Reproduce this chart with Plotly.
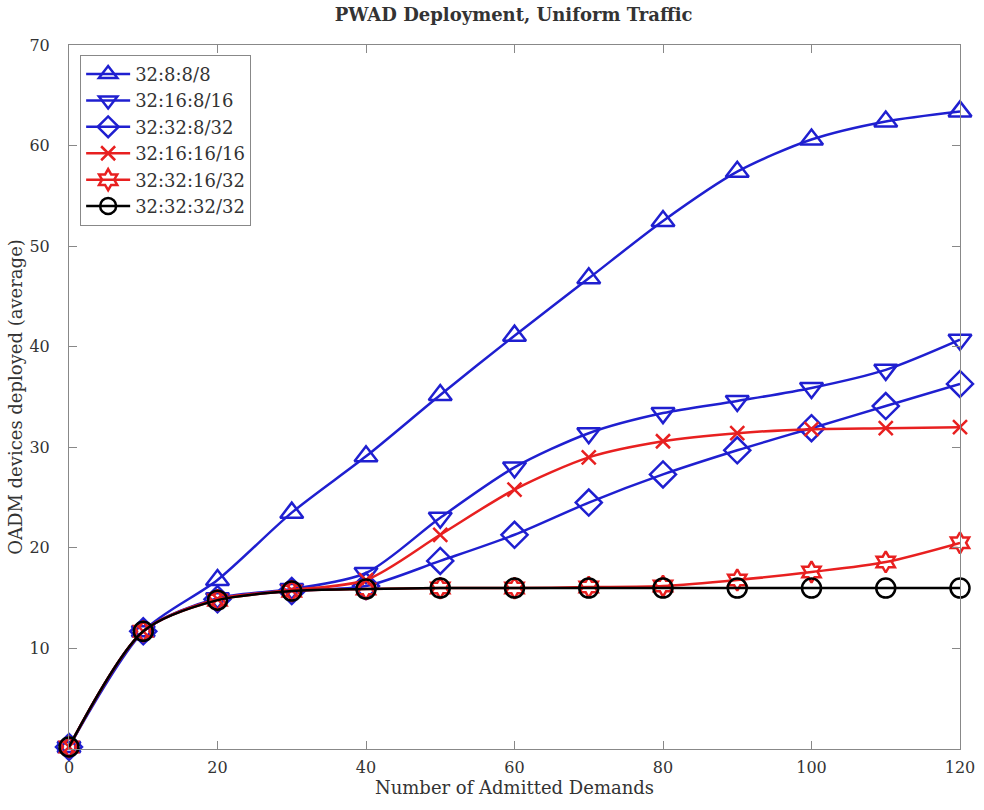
import plotly.graph_objects as go

x_vals = [0, 10, 20, 30, 40, 50, 60, 70, 80, 90, 100, 110, 120]

s_8_8 = [0.2, 11.7, 16.8, 23.5, 29.1, 35.2, 41.1, 46.8, 52.5, 57.4, 60.6, 62.4, 63.4]
s_16_8 = [0.2, 11.7, 15.0, 15.9, 17.5, 23.0, 28.0, 31.4, 33.4, 34.6, 35.9, 37.7, 40.7]
s_32_8 = [0.2, 11.7, 14.9, 15.7, 16.2, 18.7, 21.3, 24.5, 27.3, 29.7, 31.9, 34.1, 36.3]
s_16_16 = [0.2, 11.7, 14.9, 15.8, 16.8, 21.3, 25.8, 29.0, 30.6, 31.4, 31.8, 31.9, 32.0]
s_32_16 = [0.2, 11.7, 14.8, 15.7, 15.9, 16.0, 16.0, 16.1, 16.2, 16.8, 17.6, 18.6, 20.5]
s_32_32 = [0.2, 11.7, 14.8, 15.7, 15.9, 16.0, 16.0, 16.0, 16.0, 16.0, 16.0, 16.0, 16.0]

names = ["32:8:8/8", "32:16:8/16", "32:32:8/32", "32:16:16/16", "32:32:16/32", "32:32:32/32"]
series = [s_8_8, s_16_8, s_32_8, s_16_16, s_32_16, s_32_32]
colors = ["#1f1fd0", "#1f1fd0", "#1f1fd0", "#e82020", "#e82020", "#000000"]
symbols = ["triangle-up-open", "triangle-down-open", "diamond-open", "x-thin-open", "hexagram-open", "circle-open"]
sizes = [20, 20, 20, 14, 16, 19]

y_ticks = [10, 20, 30, 40, 50, 60, 70]
x_ticks = [0, 20, 40, 60, 80, 100, 120]

fig = go.Figure()
for name, ys, c, sym, sz in zip(names, series, colors, symbols, sizes):
    fig.add_trace(go.Scatter(
        x=x_vals, y=ys, name=name, mode="lines+markers",
        line=dict(color=c, width=2.5, shape="spline", smoothing=0.8),
        marker=dict(symbol=sym, size=sz, color=c, line=dict(color=c, width=2.5)),
        cliponaxis=False,
    ))

serif = "DejaVu Serif, Liberation Serif, serif"
txt = "#333333"
fig.update_layout(
    width=984, height=810,
    margin=dict(l=69, r=24, t=45, b=61),
    paper_bgcolor="white", plot_bgcolor="white",
    font=dict(family=serif, size=17, color=txt),
    title=dict(text="<b>PWAD Deployment, Uniform Traffic</b>", x=0.522, xanchor="center",
               y=0.99, yanchor="top", font=dict(family=serif, size=18, color=txt)),
    showlegend=True,
    legend=dict(x=0.0125, y=0.986, xanchor="left", yanchor="top",
                bordercolor="#888888", borderwidth=1, bgcolor="white",
                font=dict(family=serif, size=18, color=txt),
                tracegroupgap=0, itemwidth=44),
)
fig.update_xaxes(range=[0, 120], tickvals=x_ticks, ticks="inside", ticklen=8,
                 tickcolor="#888888", showline=True, linecolor="#888888", mirror="allticks",
                 showgrid=False, zeroline=False, ticklabelstandoff=4, automargin=False,
                 title=dict(text="Number of Admitted Demands", standoff=2, font=dict(size=18)),
                 tickfont=dict(size=16))
fig.update_yaxes(range=[0, 70], tickvals=y_ticks, ticks="inside", ticklen=8,
                 tickcolor="#888888", showline=True, linecolor="#888888", mirror="allticks",
                 showgrid=False, zeroline=False, ticklabelstandoff=15, automargin=False,
                 title=dict(text="OADM devices deployed (average)", standoff=2, font=dict(size=18)),
                 tickfont=dict(size=16))

fig.write_html("out.html")
